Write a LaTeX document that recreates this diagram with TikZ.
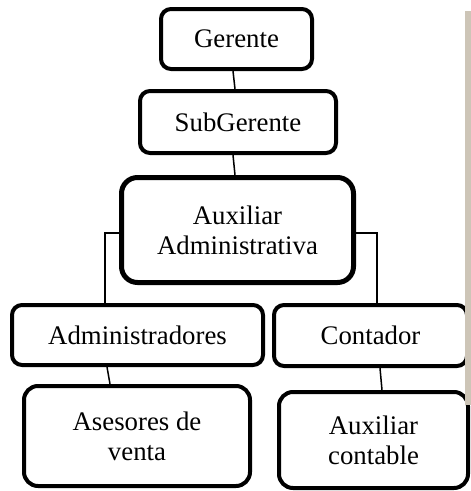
\documentclass[tikz,border=0pt]{standalone}
\usepackage{fontspec}
\setmainfont{Liberation Serif}
\begin{document}
\begin{tikzpicture}[x=1pt,y=-1pt,
  orgbox/.style={draw=black, line width=4pt, rounded corners=10pt, align=center,
    font=\fontsize{26.8}{30}\selectfont, inner sep=0pt},
  link/.style={draw=black, line width=1.5pt}]
\definecolor{sidebar}{RGB}{205,197,183}
\useasboundingbox (0,0) rectangle (471,491);
\fill[white] (0,0) rectangle (471,491);

% boxes of the chart
\node[orgbox, minimum width=151pt, minimum height=60pt] (ger) at (236.5,39) {Gerente};
\node[orgbox, minimum width=196pt, minimum height=62pt] (sub) at (238,122) {SubGerente};
\node[orgbox, line width=5pt, rounded corners=16pt, minimum width=232pt, minimum height=105pt] (aux) at (237.5,230) {Auxiliar\\Administrativa};
\node[orgbox, minimum width=251pt, minimum height=60pt] (adm) at (137.5,335) {Administradores};
\node[orgbox, minimum width=193pt, minimum height=61pt] (con) at (370.5,335.5) {Contador};
\node[orgbox, rounded corners=14pt, minimum width=226pt, minimum height=100pt] (ase) at (137,436) {Asesores de\\venta};
\node[orgbox, rounded corners=14pt, minimum width=189pt, minimum height=96pt] (auc) at (373.5,440) {Auxiliar\\contable};

% connectors
\draw[link] ([xshift=-3.5pt]ger.south) -- ([xshift=-3pt]sub.north);
\draw[link] ([xshift=-5pt]sub.south) -- ([xshift=-2.5pt]aux.north);
\draw[link] ([yshift=-3pt]aux.west) -| ([xshift=-32.5pt]adm.north);
\draw[link] ([yshift=-3pt]aux.east) -| ([xshift=6.5pt]con.north);
\draw[link] ([xshift=-30.5pt]adm.south) -- ([xshift=-27pt]ase.north);
\draw[link] ([xshift=9.5pt]con.south) -- ([xshift=8.5pt]auc.north);

% page edge strip
\fill[sidebar] (465,11) rectangle (471,405);
\end{tikzpicture}
\end{document}
